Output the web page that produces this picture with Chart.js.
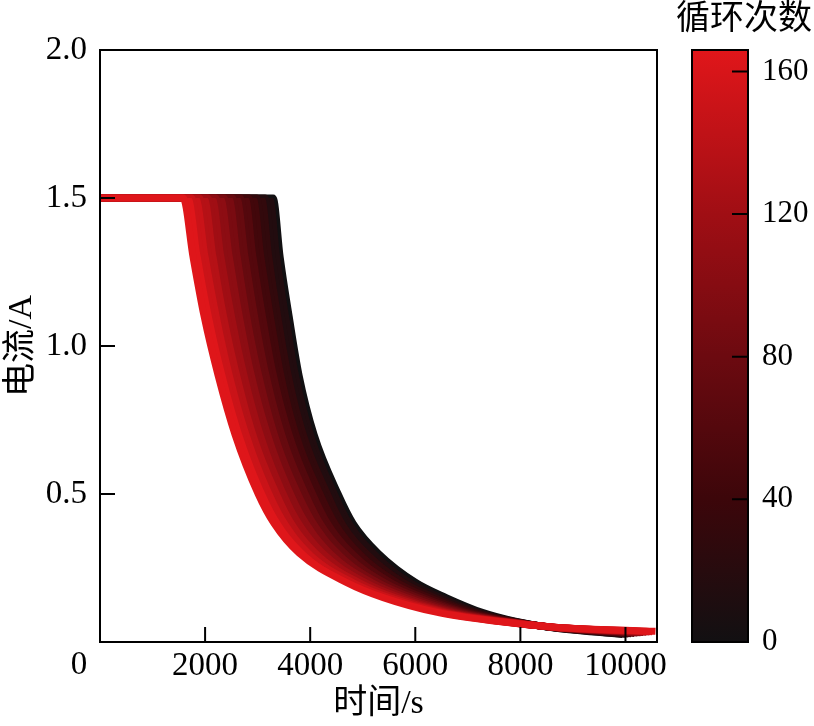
<!DOCTYPE html>
<html>
<head>
<meta charset="utf-8">
<script src="https://cdn.jsdelivr.net/npm/chart.js@4.4.1/dist/chart.umd.min.js"></script>
<style>
  html, body { margin: 0; padding: 0; background: #fff; }
  #wrap { position: relative; width: 814px; height: 726px; }
  #main { position: absolute; left: 0; top: 0; }
  #bar { position: absolute; left: 660px; top: 0; }
</style>
</head>
<body>
<div id="wrap">
  <canvas id="main" width="814" height="726"></canvas>
  <canvas id="bar" width="154" height="726"></canvas>
</div>
<script>
// current levels (A) shared by every curve, first two are the CC plateau
const currentLevels = [1.5, 1.5, 1.3, 1.1, 0.9, 0.7, 0.5, 0.4, 0.3, 0.2, 0.15, 0.1, 0.07, 0.05];

// time (s) at which each cycle reaches the levels above
const t000 = [0, 3295, 3429, 3600, 3790, 4076, 4533, 4819, 5295, 6019, 6590, 7276, 7905, 8533];
const t015 = [0, 3140, 3280, 3450, 3650, 3940, 4400, 4680, 5160, 5900, 6480, 7200, 7870, 8550];
const t030 = [0, 2980, 3130, 3310, 3510, 3800, 4260, 4550, 5020, 5780, 6370, 7120, 7840, 8560];
const t045 = [0, 2830, 2980, 3160, 3370, 3670, 4120, 4410, 4890, 5660, 6260, 7040, 7810, 8570];
const t060 = [0, 2670, 2830, 3010, 3230, 3530, 3980, 4270, 4750, 5540, 6150, 6960, 7770, 8580];
const t075 = [0, 2520, 2680, 2860, 3090, 3390, 3840, 4140, 4610, 5420, 6050, 6890, 7740, 8590];
const t090 = [0, 2360, 2530, 2720, 2950, 3260, 3700, 4000, 4470, 5300, 5940, 6810, 7710, 8610];
const t105 = [0, 2200, 2370, 2570, 2810, 3120, 3560, 3860, 4340, 5180, 5830, 6730, 7680, 8620];
const t120 = [0, 2050, 2220, 2420, 2670, 2980, 3430, 3720, 4200, 5060, 5720, 6650, 7640, 8630];
const t135 = [0, 1890, 2070, 2280, 2530, 2850, 3290, 3590, 4060, 4940, 5610, 6580, 7610, 8640];
const t150 = [0, 1740, 1920, 2130, 2390, 2710, 3150, 3450, 3930, 4820, 5500, 6500, 7580, 8660];
const t165 = [0, 1581, 1771, 1981, 2248, 2571, 3010, 3314, 3790, 4705, 5390, 6419, 7543, 8667];

// last point of every curve (same order as cycles below)
const endTimes = [10571, 10510, 10460, 10400, 10340, 10290, 10230, 10170, 10110, 10060, 10000, 9943];
const endCurrents = [0.036, 0.035, 0.034, 0.033, 0.032, 0.031, 0.030, 0.029, 0.028, 0.027, 0.026, 0.025];

// drawn red first so it stays on top
const cycles = [165, 150, 135, 120, 105, 90, 75, 60, 45, 30, 15, 0];
const curveTimes = [t165, t150, t135, t120, t105, t090, t075, t060, t045, t030, t015, t000];

const xTicks = [2000, 4000, 6000, 8000, 10000];
const yTicks = [0.5, 1.0, 1.5, 2.0];
const cbTicks = [0, 40, 80, 120, 160];
const cbMax = 166;

// colour map of the colour bar
const cbStops = [0, 40, 80, 120, 166];
const cbColors = ['#121012', '#3c060a', '#6c0a10', '#a00e14', '#e0161a'];

const tickFont = { family: "'Liberation Serif', 'Times New Roman', serif", size: 33 };
const cbFont = { family: "'Liberation Serif', 'Times New Roman', serif", size: 31 };
const titleFont = { family: "'Liberation Serif', 'Noto Sans CJK SC', serif", size: 34 };

function hexToRgb(h) {
    return [parseInt(h.slice(1, 3), 16), parseInt(h.slice(3, 5), 16), parseInt(h.slice(5, 7), 16)];
}

function colorAt(n) {
    for (let i = 0; i < cbStops.length - 1; i++) {
        if (n <= cbStops[i + 1]) {
            const f = (n - cbStops[i]) / (cbStops[i + 1] - cbStops[i]);
            const a = hexToRgb(cbColors[i]);
            const b = hexToRgb(cbColors[i + 1]);
            const c = a.map((v, k) => Math.round(v + (b[k] - v) * f));
            return `rgb(${c[0]}, ${c[1]}, ${c[2]})`;
        }
    }
    return cbColors[cbColors.length - 1];
}

const datasets = cycles.map((n, i) => {
    const pts = curveTimes[i].map((t, k) => ({ x: t, y: currentLevels[k] }));
    pts.push({ x: endTimes[i], y: endCurrents[i] });
    return {
        label: 'cycle ' + n,
        data: pts,
        borderColor: colorAt(n),
        backgroundColor: colorAt(n),
        fill: i < cycles.length - 1 ? '+1' : false
    };
});

// box, inward ticks and the shared origin label
const mainFrame = {
    id: 'mainFrame',
    afterDatasetsDraw(chart) {
        const { ctx, chartArea: a, scales: { x, y } } = chart;
        ctx.save();
        ctx.strokeStyle = '#000';
        ctx.lineWidth = 2;
        ctx.beginPath();
        xTicks.forEach(v => {
            const px = x.getPixelForValue(v);
            ctx.moveTo(px, a.bottom);
            ctx.lineTo(px, a.bottom - 15);
        });
        yTicks.forEach(v => {
            const py = y.getPixelForValue(v);
            ctx.moveTo(a.left, py);
            ctx.lineTo(a.left + 15, py);
        });
        ctx.stroke();
        ctx.strokeRect(a.left, a.top, a.right - a.left, a.bottom - a.top);
        ctx.fillStyle = '#000';
        ctx.font = `${tickFont.size}px ${tickFont.family}`;
        ctx.textAlign = 'center';
        ctx.textBaseline = 'middle';
        ctx.fillText('0', a.left - 21, a.bottom + 23);
        ctx.restore();
    }
};

new Chart(document.getElementById('main'), {
    type: 'line',
    data: { datasets: datasets },
    options: {
        responsive: false,
        animation: false,
        layout: { padding: { top: 50, right: 157, left: 0, bottom: 0 } },
        plugins: { legend: { display: false }, tooltip: { enabled: false } },
        elements: {
            point: { radius: 0 },
            line: { borderWidth: 7, cubicInterpolationMode: 'monotone' }
        },
        scales: {
            x: {
                type: 'linear',
                min: 0,
                max: 10600,
                grid: { display: false, drawTicks: false },
                border: { display: false },
                afterBuildTicks: s => { s.ticks = xTicks.map(v => ({ value: v })); },
                afterFit: s => { s.height = 84; },
                ticks: { font: tickFont, color: '#000', padding: 5, maxRotation: 0, autoSkip: false, callback: v => String(v) },
                title: { display: true, text: '时间/s', font: titleFont, color: '#000', padding: { top: 0, bottom: 2 } }
            },
            y: {
                type: 'linear',
                min: 0,
                max: 2,
                grid: { display: false, drawTicks: false },
                border: { display: false },
                afterBuildTicks: s => { s.ticks = yTicks.map(v => ({ value: v })); },
                afterFit: s => { s.width = 100; },
                ticks: { font: tickFont, color: '#000', padding: 13, callback: v => v.toFixed(1) },
                title: { display: true, text: '电流/A', font: titleFont, color: '#000', padding: { top: 2, bottom: 0 } }
            }
        }
    },
    plugins: [mainFrame]
});

// colour bar
const barFrame = {
    id: 'barFrame',
    afterDatasetsDraw(chart) {
        const { ctx, chartArea: a, scales: { y } } = chart;
        ctx.save();
        ctx.strokeStyle = '#000';
        ctx.lineWidth = 2;
        ctx.beginPath();
        cbTicks.slice(1).forEach(v => {
            const py = y.getPixelForValue(v);
            ctx.moveTo(a.right, py);
            ctx.lineTo(a.right - 16, py);
        });
        ctx.stroke();
        ctx.strokeRect(a.left, a.top, a.right - a.left, a.bottom - a.top);
        ctx.fillStyle = '#000';
        ctx.font = `${titleFont.size}px ${titleFont.family}`;
        ctx.textAlign = 'center';
        ctx.textBaseline = 'middle';
        ctx.fillText('循环次数', 84, 20);
        ctx.restore();
    }
};

new Chart(document.getElementById('bar'), {
    type: 'bar',
    data: {
        labels: [''],
        datasets: [{
            data: [[0, cbMax]],
            backgroundColor: c => {
                const a = c.chart.chartArea;
                if (!a) return '#000';
                const g = c.chart.ctx.createLinearGradient(0, a.bottom, 0, a.top);
                cbStops.forEach((v, i) => g.addColorStop(v / cbMax, cbColors[i]));
                return g;
            },
            borderWidth: 0,
            barPercentage: 1,
            categoryPercentage: 1
        }]
    },
    options: {
        responsive: false,
        animation: false,
        layout: { padding: { left: 32, top: 50, bottom: 84, right: 0 } },
        plugins: { legend: { display: false }, tooltip: { enabled: false } },
        scales: {
            x: { display: false },
            y: {
                position: 'right',
                min: 0,
                max: cbMax,
                grid: { display: false, drawTicks: false },
                border: { display: false },
                afterBuildTicks: s => { s.ticks = cbTicks.map(v => ({ value: v })); },
                afterFit: s => { s.width = 66; },
                ticks: { font: cbFont, color: '#000', padding: 14 }
            }
        }
    },
    plugins: [barFrame]
});
</script>
</body>
</html>
